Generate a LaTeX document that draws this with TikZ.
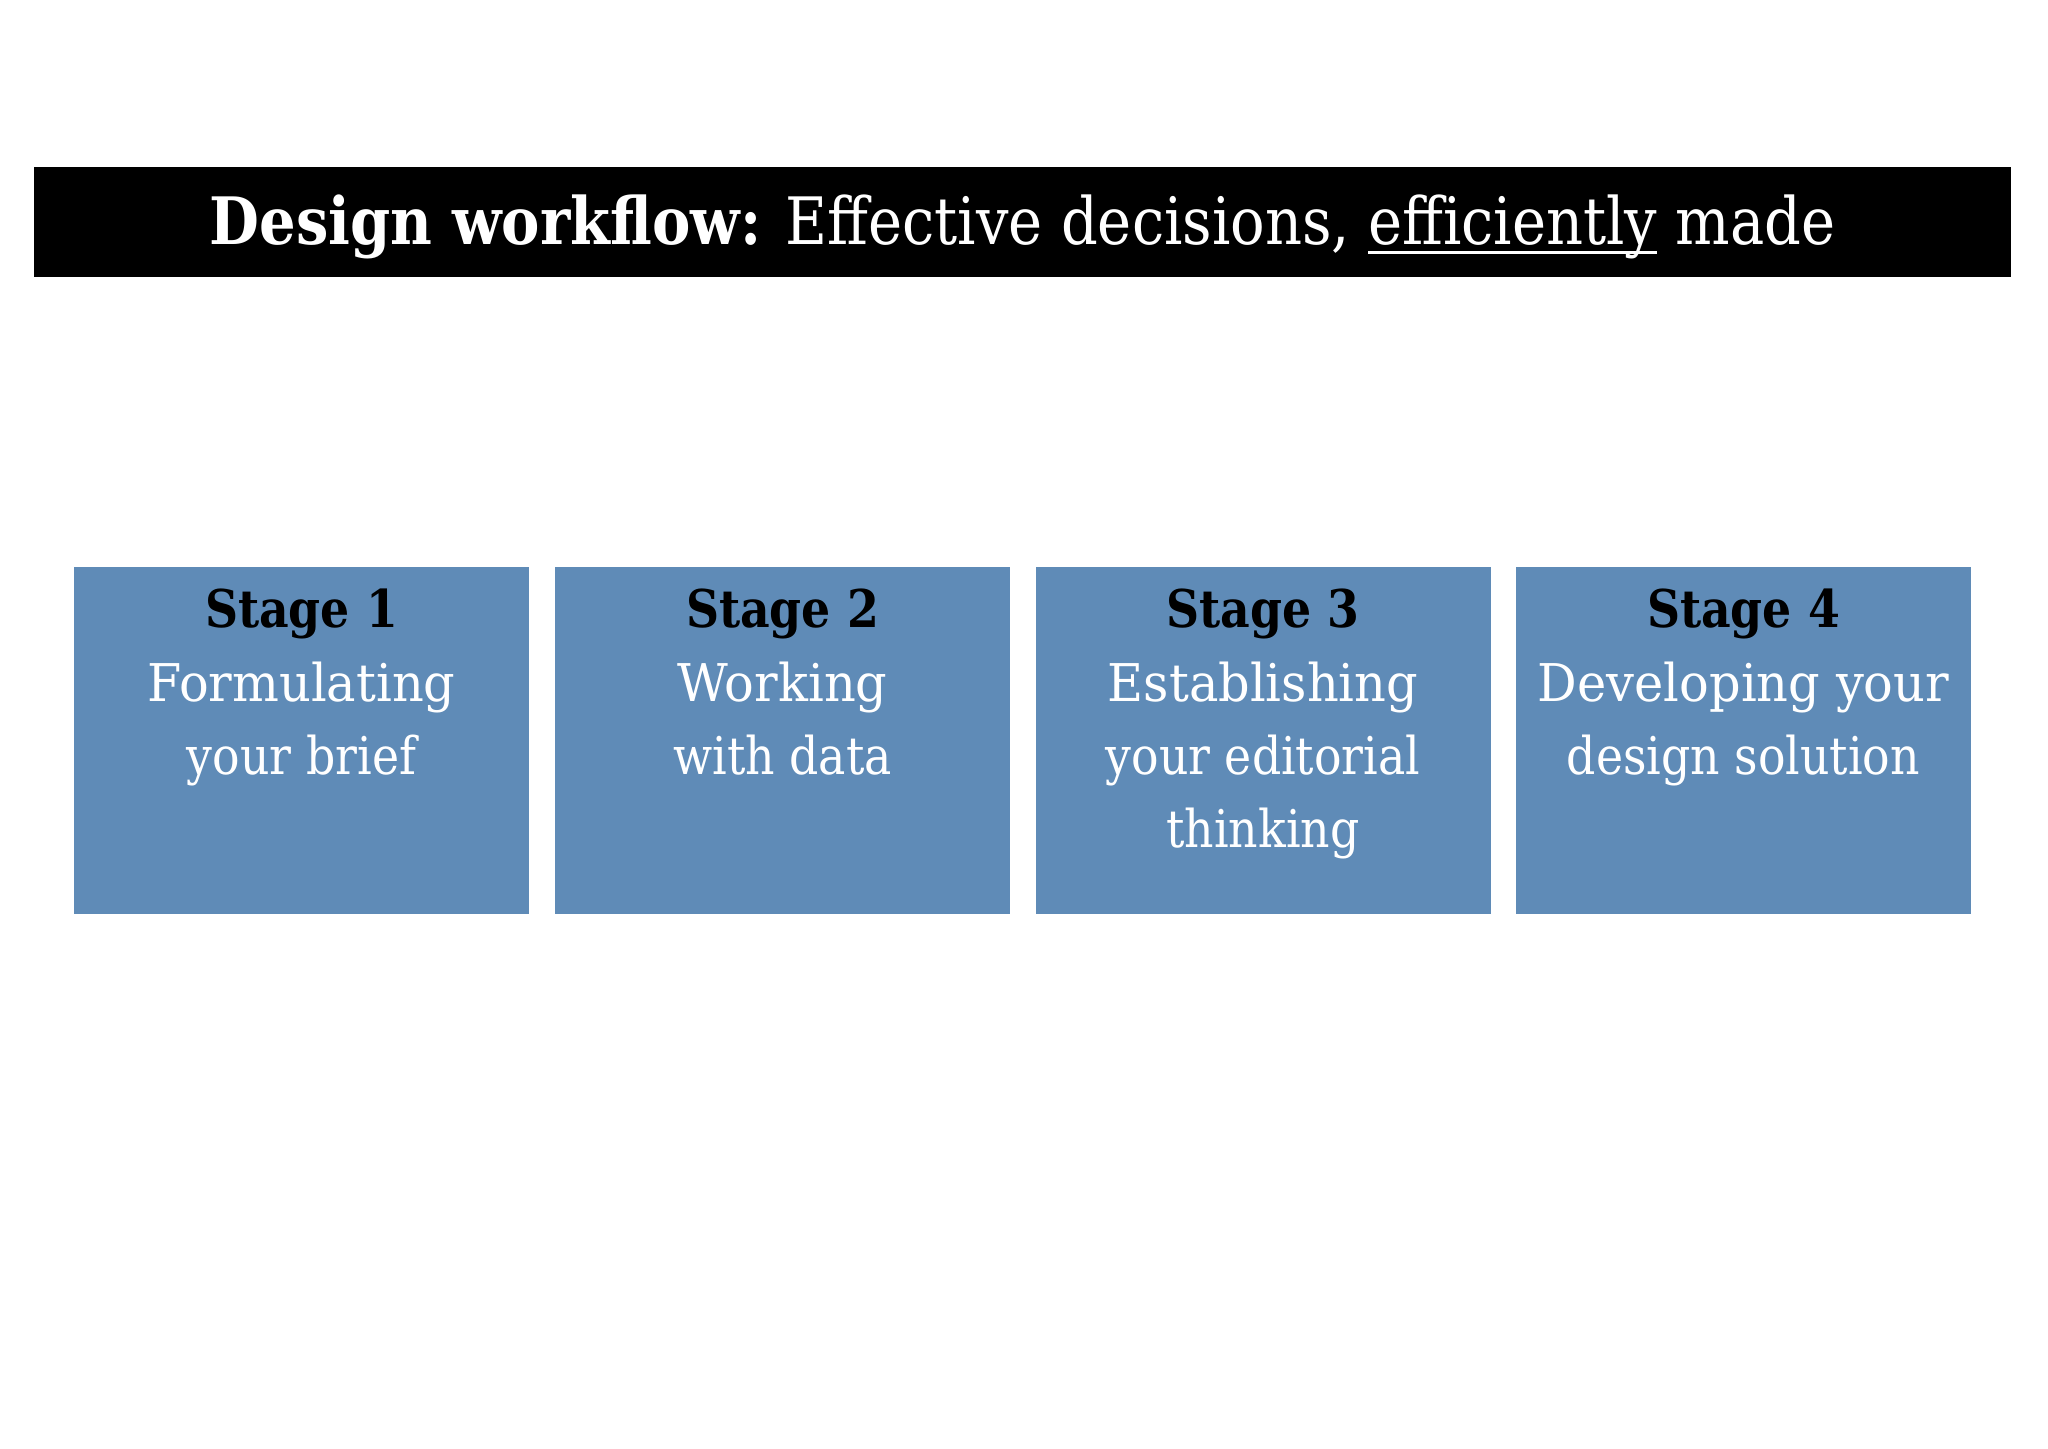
\documentclass[tikz,border=0pt]{standalone}
\usepackage{fontspec}
\setmainfont{DejaVu Serif}[FakeStretch=0.88]
\newfontfamily\descfont{DejaVu Serif}[FakeStretch=0.95]
\usetikzlibrary{positioning}
\definecolor{stageblue}{HTML}{5F8BB7}
\newcommand\ulword[1]{\setbox0\hbox{#1}\rlap{\rule[-2.6pt]{\wd0}{0.8pt}}#1}
\begin{document}
\begin{tikzpicture}[line join=round, line cap=round, thick]
\tikzset{stagebox/.style={fill=stageblue, minimum width=4.55cm, minimum height=3.47cm, inner sep=0pt},
	stagetext/.style={align=center, text=white, inner sep=0pt, font=\fontsize{14.8}{20.9}\selectfont}}
\fill[white] (0,0) rectangle (20.48,14.48);
\useasboundingbox (0,0) rectangle (20.48,14.48);
\node[fill=black, minimum width=19.77cm, minimum height=1.10cm, inner sep=0pt] (bar) at (10.225,12.26) {};
\node[text=white, inner sep=0pt, font=\fontsize{18.6}{22}\selectfont] (title) at ([yshift=-0.05cm]bar.center) {\textbf{Design workflow:} Effective decisions, \ulword{efficiently} made};
\foreach \n/\x/\txt in {1/3.015/{Formulating\\your brief}, 2/7.825/{Working\\with data}, 3/12.63/{Establishing\\your editorial\\thinking}, 4/17.435/{Developing your\\design solution}}
{
	\node[stagebox] (s\n) at (\x,7.075) {};
	\node[stagetext, below=0.22cm of s\n.north] (t\n) {{\color{black}\bfseries Stage \n}\\\descfont\txt};
}
\end{tikzpicture}
\end{document}
